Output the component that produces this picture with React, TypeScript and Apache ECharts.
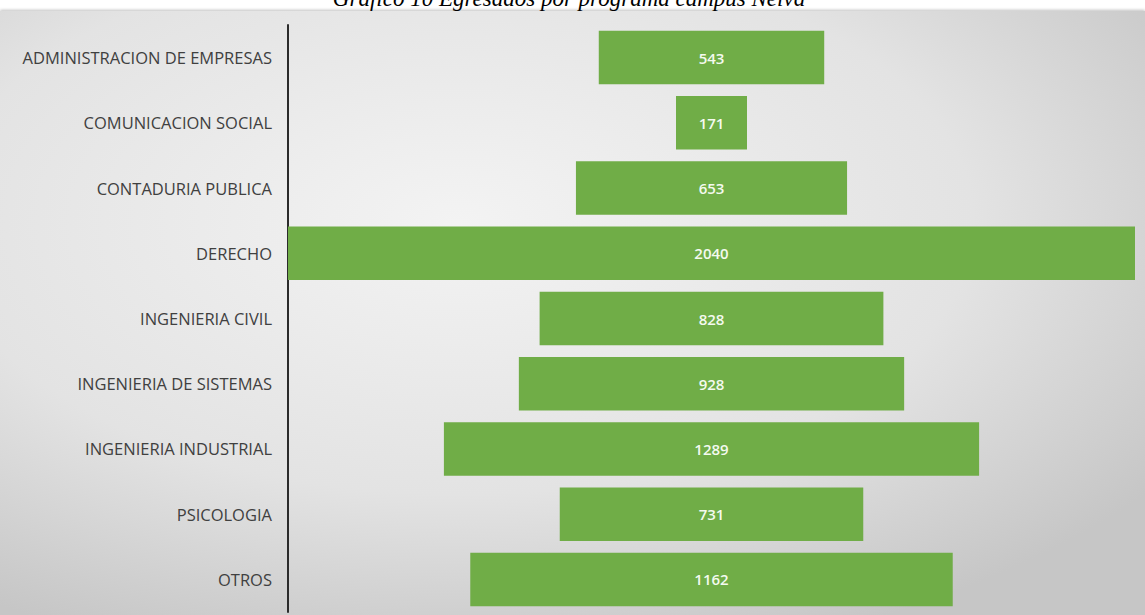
import React, { useEffect, useRef } from "react";
import * as echarts from "echarts";

const categories = [
  "ADMINISTRACION DE EMPRESAS",
  "COMUNICACION SOCIAL",
  "CONTADURIA PUBLICA",
  "DERECHO",
  "INGENIERIA CIVIL",
  "INGENIERIA DE SISTEMAS",
  "INGENIERIA INDUSTRIAL",
  "PSICOLOGIA",
  "OTROS",
];
const values = [543, 171, 653, 2040, 828, 928, 1289, 731, 1162];
const titleText = "Gráfico 10 Egresados por programa campus Neiva";

export default function App() {
  const ref = useRef<HTMLDivElement>(null);
  useEffect(() => {
    if (!ref.current) return;
    const chart = echarts.init(ref.current, null, { renderer: "svg" });
    const maxV = Math.max(...values);
    const offsets = values.map((v) => (maxV - v) / 2);
    chart.setOption({
      animation: false,
      graphic: [
        {
          type: "rect",
          z: -10,
          silent: true,
          shape: { x: 0, y: 11, width: 1145, height: 604 },
          style: {
            fill: {
              type: "radial",
              x: 0.4,
              y: 0.35,
              r: 0.75,
              colorStops: [
                { offset: 0, color: "#f3f3f3" },
                { offset: 0.6, color: "#e3e3e3" },
                { offset: 1, color: "#c6c6c6" },
              ],
            },
            shadowColor: "rgba(0,0,0,0.25)",
            shadowBlur: 3,
            shadowOffsetY: -1,
          },
        },
        {
          type: "text",
          z: -5,
          x: 569,
          y: 10,
          style: {
            text: titleText,
            fontFamily: "Liberation Serif",
            fontStyle: "italic",
            fontSize: 23,
            fill: "#000",
            align: "center",
            verticalAlign: "bottom",
          },
        },
      ],
      grid: { left: 288, right: 10, top: 25, bottom: 3, containLabel: false },
      xAxis: {
        type: "value",
        min: 0,
        max: maxV,
        show: false,
      },
      yAxis: {
        type: "category",
        data: categories,
        inverse: true,
        axisLine: { show: true, lineStyle: { color: "#2b2b2b", width: 2 } },
        axisTick: { show: false },
        axisLabel: {
          color: "#404040",
          fontSize: 16.5,
          fontFamily: "Open Sans",
          margin: 16,
        },
        splitLine: { show: false },
      },
      series: [
        {
          type: "bar",
          stack: "f",
          data: offsets,
          itemStyle: { color: "transparent" },
          silent: true,
          barCategoryGap: "18%",
        },
        {
          type: "bar",
          stack: "f",
          data: values,
          barCategoryGap: "18%",
          itemStyle: { color: "#70ad47" },
          label: {
            show: true,
            position: "inside",
            color: "#f4faef",
            fontSize: 15,
            fontWeight: 600,
            fontFamily: "Open Sans",
          },
        },
      ],
    });
    return () => chart.dispose();
  }, []);
  return (
    <div
      ref={ref}
      style={{ position: "absolute", left: 0, top: 0, width: 1145, height: 615 }}
    />
  );
}
